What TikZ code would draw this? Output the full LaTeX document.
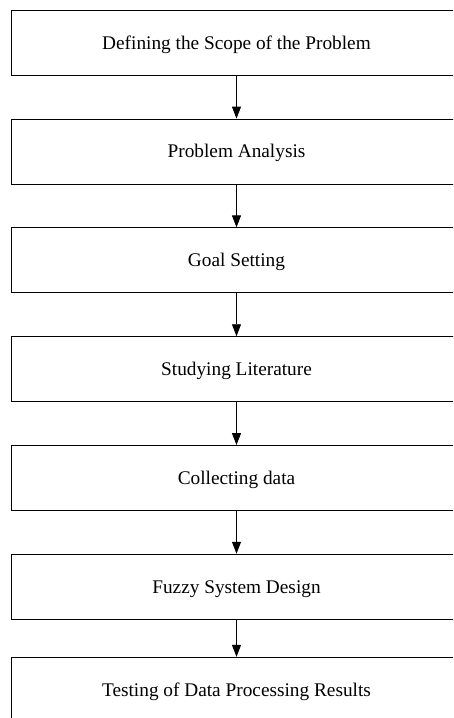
\documentclass[tikz,border=0pt]{standalone}
\usepackage{fontspec}
\setmainfont{Liberation Serif}
\usetikzlibrary{arrows.meta}
\begin{document}
\begin{tikzpicture}[x=1pt,y=-1pt,
  stepbox/.style={draw=black,line width=0.9pt,minimum width=450pt,minimum height=65pt,
    inner sep=0pt,text height=12.8pt,text depth=0pt,
    font=\fontsize{19.3}{23}\selectfont},
  flow/.style={draw=black,line width=0.9pt,-{Triangle[width=9pt,length=12pt]}}]
\useasboundingbox (0,0) rectangle (453,718);
\clip (0,0) rectangle (453,718);
\node[stepbox] (b1) at (236.5,43) {Defining the Scope of the Problem};
\node[stepbox] (b2) at (236.5,151.5) {Problem Analysis};
\node[stepbox] (b3) at (236.5,260.3) {Goal Setting};
\node[stepbox] (b4) at (236.5,369.2) {Studying Literature};
\node[stepbox] (b5) at (236.5,478) {Collecting data};
\node[stepbox] (b6) at (236.5,586.7) {Fuzzy System Design};
\node[stepbox] (b7) at (236.5,689.8) {Testing of Data Processing Results};
\foreach \a/\b in {b1/b2,b2/b3,b3/b4,b4/b5,b5/b6,b6/b7}
  \draw[flow] (\a.south) -- (\b.north);
\end{tikzpicture}
\end{document}
